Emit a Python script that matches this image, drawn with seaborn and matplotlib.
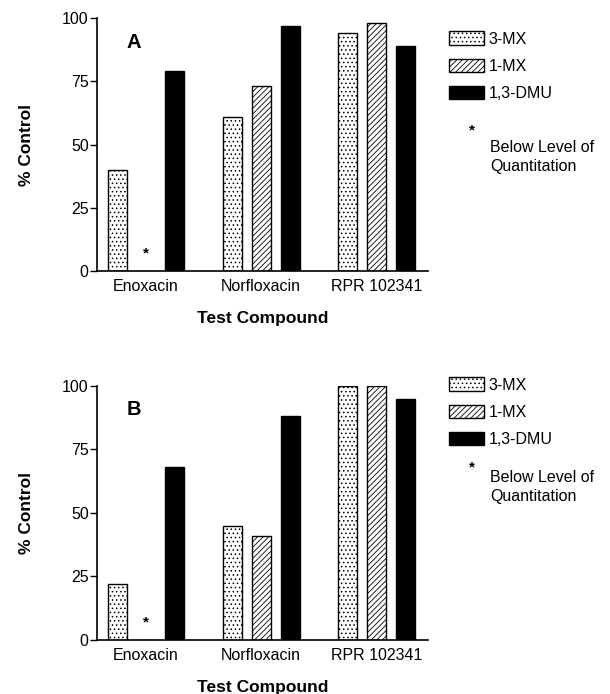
import matplotlib
matplotlib.use("Agg")
import matplotlib.pyplot as plt
import seaborn as sns
import pandas as pd
from matplotlib.patches import Patch

sns.set_theme(style="ticks")
plt.rcParams['font.family'] = ['Liberation Sans', 'DejaVu Sans']
plt.rcParams['hatch.linewidth'] = 0.6
for k in ['text.color', 'axes.labelcolor', 'xtick.color', 'ytick.color', 'axes.edgecolor']:
    plt.rcParams[k] = 'black'

compounds = ["Enoxacin", "Norfloxacin", "RPR 102341"]
metabolites = ["3-MX", "1-MX", "1,3-DMU"]
# values per metabolite, across compounds (Enoxacin 1-MX is below quantitation -> 0)
panel_a = {"3-MX": [40, 61, 94], "1-MX": [0, 73, 98], "1,3-DMU": [79, 97, 89]}
panel_b = {"3-MX": [22, 45, 100], "1-MX": [0, 41, 100], "1,3-DMU": [68, 88, 95]}
blq_a = [("Enoxacin", "1-MX")]
blq_b = [("Enoxacin", "1-MX")]
yticks = [0, 25, 50, 75, 100]

colors = {"3-MX": "white", "1-MX": "white", "1,3-DMU": "black"}
hatches = {"3-MX": "....", "1-MX": "//////", "1,3-DMU": ""}

fig = plt.figure(figsize=(6.1, 6.94), dpi=100)


def draw(ax, vals, label, blq):
    rows = []
    for m in metabolites:
        for c, v in zip(compounds, vals[m]):
            rows.append({"Compound": c, "Metabolite": m, "Value": v})
    df = pd.DataFrame(rows)
    sns.barplot(data=df, x="Compound", y="Value", hue="Metabolite",
                order=compounds, hue_order=metabolites, palette=colors,
                width=0.75, gap=0.34, edgecolor="black", linewidth=1.0,
                legend=False, ax=ax)
    i = 0
    for m in metabolites:
        for c in compounds:
            p = ax.patches[i]
            p.set_hatch(hatches[m])
            p.set_edgecolor("black")
            i += 1
    ax.set_xlim(-0.426, 2.45)
    ax.set_ylim(0, 100)
    ax.set_yticks(yticks)
    ax.tick_params(axis="y", labelsize=11.5, length=5, width=1, direction="out", pad=1)
    ax.tick_params(axis="x", labelsize=11.5, length=0, pad=6)
    sns.despine(ax=ax)
    for s in ["left", "bottom"]:
        ax.spines[s].set_linewidth(1.2)
        ax.spines[s].set_color("black")
    ax.set_ylabel("% Control", fontsize=12.5, fontweight="bold", labelpad=20)
    ax.set_xlabel("Test Compound", fontsize=12.5, fontweight="bold", labelpad=12)
    ax.text(0.09, 0.905, label, transform=ax.transAxes, fontsize=14.5,
            fontweight="bold", ha="left", va="center")
    offs = {"3-MX": -0.25, "1-MX": 0.0, "1,3-DMU": 0.25}
    for c, m in blq:
        ax.text(compounds.index(c) + offs[m], 7, "*", ha="center", va="center",
                fontsize=11, fontweight="bold")


axA = fig.add_axes([0.159, 0.6095, 0.543, 0.3645])
axB = fig.add_axes([0.159, 0.078, 0.543, 0.366])
draw(axA, panel_a, "A", blq_a)
draw(axB, panel_b, "B", blq_b)


def legend(ax, ytop):
    handles = [Patch(facecolor=colors[m], edgecolor="black", hatch=hatches[m], label=m)
               for m in metabolites]
    fig.legend(handles=handles, loc="upper left", bbox_to_anchor=(0.725, ytop),
               frameon=False, fontsize=11.5, handlelength=2.2, handleheight=0.9,
               handletextpad=0.3, labelspacing=0.75, borderaxespad=0)


legend(axA, 1 - 25 / 694)
legend(axB, 1 - 371 / 694)
for ystar, ytext in [(130, 140), (467, 470)]:
    fig.text(472 / 610, 1 - ystar / 694, "*", ha="center", va="center",
             fontsize=11, fontweight="bold")
    fig.text(490 / 610, 1 - ytext / 694, "Below Level of\nQuantitation",
             ha="left", va="top", fontsize=11.5, linespacing=1.3)

fig.savefig("out.png", dpi=100)
